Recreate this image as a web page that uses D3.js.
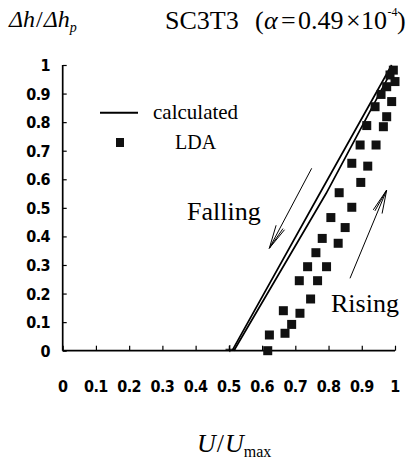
<!DOCTYPE html>
<html lang="en">
<head>
<meta charset="UTF-8">
<title>SC3T3</title>
<style>
  body { margin: 0; background: #fff; }
  svg { display: block; }
  .tick-lab { font-family: "Liberation Sans Narrow", "DejaVu Sans Condensed", "Liberation Sans", sans-serif; font-weight: bold; font-size: 16px; }
  .serif { font-family: "Liberation Serif", "DejaVu Serif", serif; }
</style>
</head>
<body>
<script src="https://cdn.jsdelivr.net/npm/d3@7"></script>
<script>
const W = 416, H = 467;

// tick values
const xTicks = [0, 0.1, 0.2, 0.3, 0.4, 0.5, 0.6, 0.7, 0.8, 0.9, 1];
const yTicks = [0, 0.1, 0.2, 0.3, 0.4, 0.5, 0.6, 0.7, 0.8, 0.9, 1];
const tickLabels = ["0", "0.1", "0.2", "0.3", "0.4", "0.5", "0.6", "0.7", "0.8", "0.9", "1"];

// calculated curves (U/Umax, dh/dhp)
const calcFalling = [[0.51, 0.0], [0.774, 0.551], [0.99, 1.0]];
const calcRising = [[0.515, 0.0], [0.793, 0.551], [0.997, 0.995]];

// LDA points, left column
const ldaU1 = [0.622, 0.664, 0.712, 0.737, 0.762, 0.781, 0.807, 0.832, 0.870, 0.895, 0.915, 0.940, 0.958, 0.975, 0.985, 0.995];
const ldaH1 = [0.055, 0.140, 0.245, 0.294, 0.343, 0.393, 0.466, 0.553, 0.656, 0.720, 0.788, 0.854, 0.897, 0.924, 0.965, 0.982];
// LDA points, right column
const ldaU2 = [0.617, 0.669, 0.689, 0.714, 0.746, 0.767, 0.794, 0.829, 0.850, 0.870, 0.897, 0.918, 0.943, 0.965, 0.975, 0.990, 1.0];
const ldaH2 = [0.0, 0.061, 0.092, 0.131, 0.181, 0.245, 0.294, 0.376, 0.431, 0.502, 0.589, 0.646, 0.720, 0.784, 0.819, 0.872, 0.942];

const svg = d3.select("body").append("svg")
  .attr("width", W).attr("height", H);

const x = d3.scaleLinear().domain([0, 1]).range([62.7, 395]);
const y = d3.scaleLinear().domain([0, 1]).range([350.7, 65]);

// axes
const fmt = (d, i) => tickLabels[i];
const gx = svg.append("g")
  .attr("transform", `translate(0,${y(0)})`)
  .call(d3.axisTop(x).tickValues(xTicks).tickSize(5).tickFormat(""));
const gy = svg.append("g")
  .attr("transform", `translate(${x(0)},0)`)
  .call(d3.axisRight(y).tickValues(yTicks).tickSize(4).tickFormat(""));
[gx, gy].forEach(g => {
  g.select(".domain").attr("stroke", "#000").attr("stroke-width", 1.7);
  g.selectAll(".tick line").attr("stroke", "#000").attr("stroke-width", 1.2);
});
gx.select(".domain").attr("d", `M${x(0)},0H${x(1)}`);
gy.select(".domain").attr("d", `M0,${y(0)}V${y(1)}`);

// tick labels
svg.append("g").selectAll("text")
  .data(xTicks).join("text")
  .attr("class", "tick-lab")
  .attr("x", d => x(d))
  .attr("y", 392)
  .attr("text-anchor", "middle")
  .attr("letter-spacing", "-0.6")
  .text(fmt);
svg.append("g").selectAll("text")
  .data(yTicks).join("text")
  .attr("class", "tick-lab")
  .attr("x", 50)
  .attr("y", d => y(d) + 6)
  .attr("text-anchor", "end")
  .attr("letter-spacing", "-0.6")
  .text(fmt);

// calculated lines
const line = d3.line().x(d => x(d[0])).y(d => y(d[1]));
[calcFalling, calcRising].forEach(c => {
  svg.append("path").attr("d", line(c))
    .attr("fill", "none").attr("stroke", "#000").attr("stroke-width", 1.7);
});
// small cross at the foot of the curves
svg.append("path")
  .attr("d", `M${x(0.49)},${y(0.005)}H${x(0.52)}M${x(0.503)},${y(0.02)}V${y(-0.005)}`)
  .attr("stroke", "#000").attr("stroke-width", 1);

// LDA squares
const pts = ldaU1.map((u, i) => [u, ldaH1[i]]).concat(ldaU2.map((u, i) => [u, ldaH2[i]]));
const s = 9;
svg.append("g").selectAll("rect")
  .data(pts).join("rect")
  .attr("x", d => x(d[0]) - s / 2)
  .attr("y", d => y(d[1]) - s / 2)
  .attr("width", s).attr("height", s)
  .attr("fill", "#111");

// legend
svg.append("line").attr("x1", 100).attr("x2", 138).attr("y1", 112.7).attr("y2", 112.7)
  .attr("stroke", "#000").attr("stroke-width", 2);
svg.append("rect").attr("x", 116).attr("y", 138).attr("width", 8).attr("height", 9).attr("fill", "#111");
svg.append("text").attr("class", "serif").attr("x", 153).attr("y", 119)
  .attr("font-size", 21).text("calculated");
svg.append("text").attr("class", "serif").attr("x", 175).attr("y", 149)
  .attr("font-size", 20).text("LDA");

// Falling / Rising arrows
function arrow(x1, y1, x2, y2) {
  svg.append("line").attr("x1", x1).attr("y1", y1).attr("x2", x2).attr("y2", y2)
    .attr("stroke", "#000").attr("stroke-width", 1);
  const a = Math.atan2(y2 - y1, x2 - x1), L = 24;
  [0.2, -0.2, 0.12].forEach(da => {
    svg.append("line").attr("x1", x2).attr("y1", y2)
      .attr("x2", x2 - L * Math.cos(a + da)).attr("y2", y2 - L * Math.sin(a + da))
      .attr("stroke", "#000").attr("stroke-width", 1);
  });
}
arrow(311.7, 168.3, 269.3, 248.3);
arrow(350, 278.3, 386.7, 190);

svg.append("text").attr("class", "serif").attr("x", 187).attr("y", 220)
  .attr("font-size", 26).text("Falling");
svg.append("text").attr("class", "serif").attr("x", 331).attr("y", 312)
  .attr("font-size", 26).text("Rising");

// titles
const t1 = svg.append("text").attr("class", "serif").attr("x", 9).attr("y", 27)
  .attr("font-size", 24).attr("font-style", "italic");
t1.append("tspan").text("Δh");
t1.append("tspan").attr("font-style", "normal").attr("dx", 1).text("/");
t1.append("tspan").attr("dx", 1).text("Δh");
t1.append("tspan").attr("font-size", 14).attr("dy", 5).text("p");

const t2 = svg.append("g").attr("class", "serif").attr("font-size", 26);
const title = [["SC3T3", 165, 0], ["(", 255, 0], ["α", 264, 1], ["=", 281, 0], ["0.49", 298, 0], ["×", 346, 0], ["10", 361, 0], [")", 397, 0]];
title.forEach(p => {
  t2.append("text").attr("x", p[1]).attr("y", 29)
    .attr("font-style", p[2] ? "italic" : "normal").text(p[0]);
});
t2.append("text").attr("x", 387.5).attr("y", 16).attr("font-size", 12).text("-4");

const t3 = svg.append("text").attr("class", "serif").attr("x", 197).attr("y", 452)
  .attr("font-size", 26).attr("font-style", "italic");
t3.append("tspan").text("U");
t3.append("tspan").attr("font-style", "normal").attr("dx", 1).text("/");
t3.append("tspan").attr("dx", 1).text("U");
t3.append("tspan").attr("font-style", "normal").attr("font-size", 16).attr("dy", 5).text("max");
</script>
</body>
</html>
